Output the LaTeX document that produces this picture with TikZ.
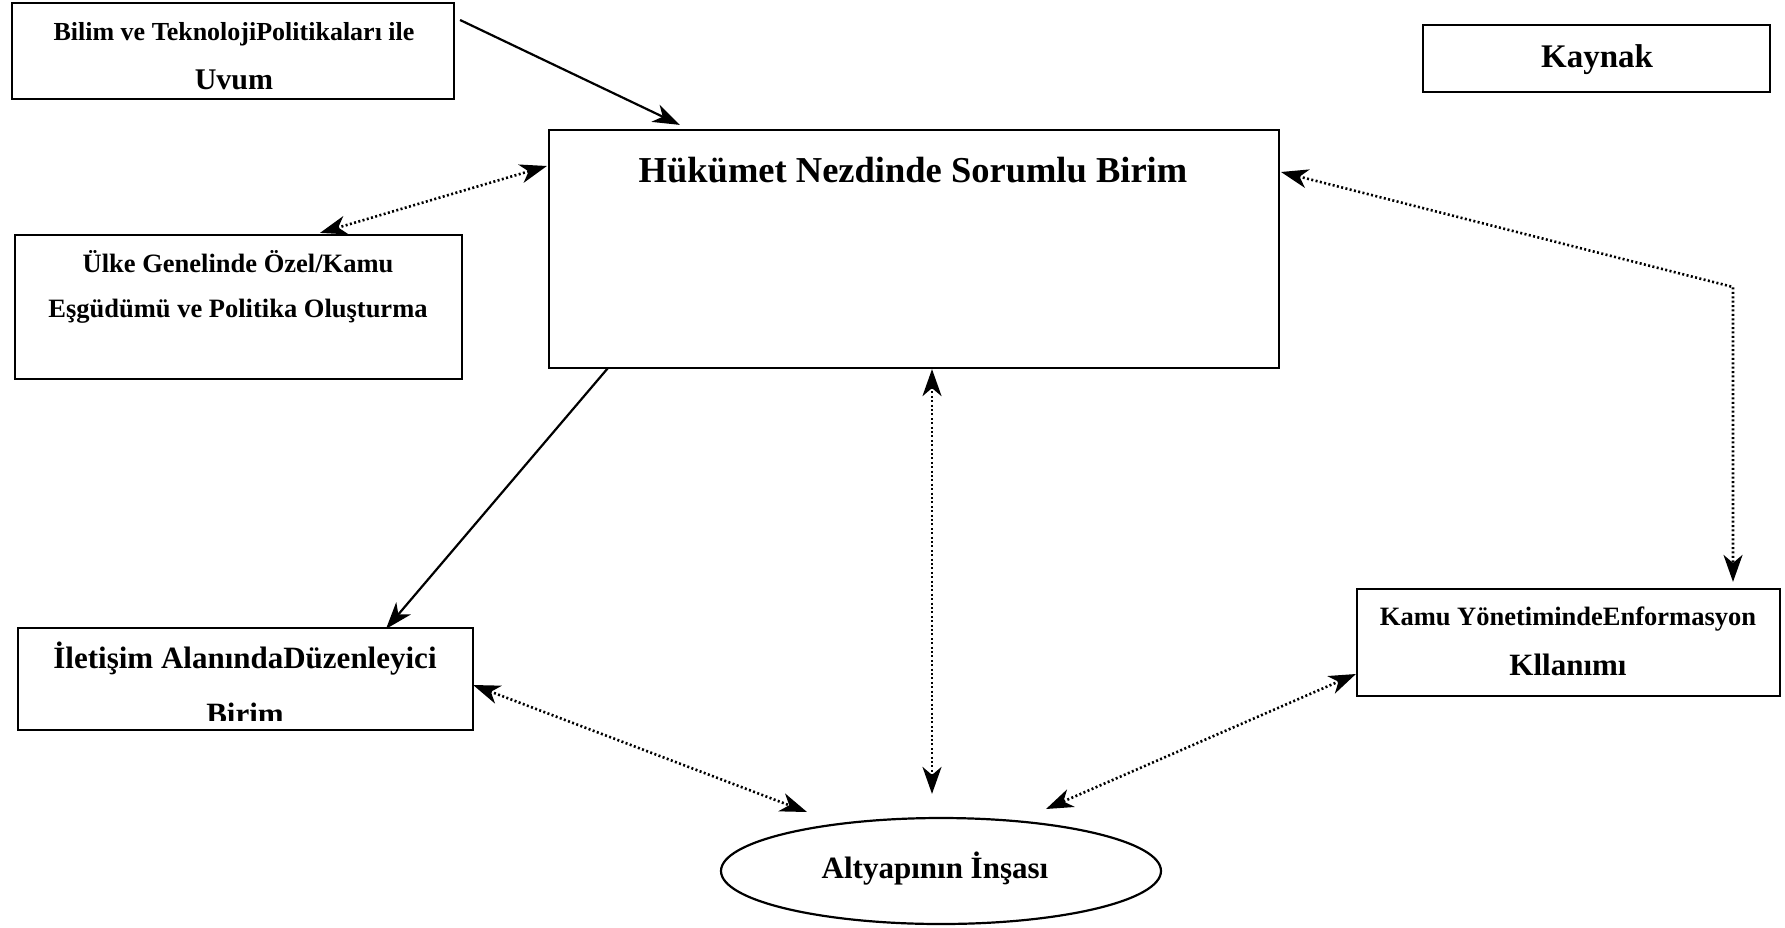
\documentclass[tikz,border=0pt]{standalone}
\usepackage{fontspec}
\setmainfont{Liberation Serif}
\usetikzlibrary{arrows.meta,calc,shapes.geometric}
\tikzset{
  box/.style={draw, line width=2.2pt, inner sep=0pt},
  txt/.style={anchor=base, inner sep=0pt, font=\bfseries},
  solidarrow/.style={line width=2.2pt, -{Stealth[length=27pt,width=19pt,inset=8pt]}},
  dotarrow/.style={line width=2.6pt, dash pattern=on 2pt off 2.4pt,
    {Stealth[length=27pt,width=19pt,inset=8pt]}-{Stealth[length=27pt,width=19pt,inset=8pt]}}
}
\newcommand{\fs}[1]{\fontsize{#1}{#1}\selectfont}
\begin{document}
\begin{tikzpicture}[x=1pt,y=-1pt]
\useasboundingbox (0,0) rectangle (1785,927);
% boxes
\node[box, minimum width=442, minimum height=96] (bilim) at (233,51) {};
\node[box, minimum width=347, minimum height=67] (kaynak) at (1596.5,58.5) {};
\node[box, minimum width=730, minimum height=238] (main) at (914,249) {};
\node[box, minimum width=447, minimum height=144] (ulke) at (238.5,307) {};
\node[box, minimum width=455, minimum height=102] (ilet) at (245.5,679) {};
\node[box, minimum width=423, minimum height=107] (kamu) at (1568.5,642.5) {};
\node[draw, ellipse, line width=2.2pt, minimum width=440, minimum height=106, inner sep=0pt] (alt) at (941,871) {};
% texts
\node[txt] (t1) at (234,40) {\fs{26}Bilim ve TeknolojiPolitikaları ile};
\node[txt] (t2) at (234,89) {\fs{30}Uvum};
\node[txt] (t3) at (1597,67) {\fs{33}Kaynak};
\node[txt] (t4) at (913,182) {\fs{36.5}Hükümet Nezdinde Sorumlu Birim};
\node[txt] (t5) at (238,272) {\fs{26.5}Ülke Genelinde Özel/Kamu};
\node[txt] (t6) at (238,317) {\fs{26.5}Eşgüdümü ve Politika Oluşturma};
\node[txt] (t7) at (245,668) {\fs{31}İletişim AlanındaDüzenleyici};
\begin{scope}
\clip (18,628) rectangle (473,720);
\node[txt] (t8) at (245,724) {\fs{31}Birim};
\end{scope}
\node[txt] (t9) at (1568,625) {\fs{26.5}Kamu YönetimindeEnformasyon};
\node[txt] (t10) at (1568,675) {\fs{31}Kllanımı};
\node[txt] (t11) at (935,878) {\fs{31}Altyapının İnşası};
% connectors
\coordinate (corner) at (1733,287);
\draw[solidarrow] ($(bilim.east)+(5,-31)$) -- ($(main.north west)+(132,-4)$);
\draw[dotarrow] ($(ulke.north)+(81.5,-1)$) -- ($(main.west)+(-1,-83)$);
\draw[solidarrow] ($(main.south west)+(60,-1)$) -- ($(ilet.north)+(140.5,2)$);
\draw[dotarrow] ($(main.south)+(18,0)$) -- ($(alt.north)+(-9,-23)$);
\draw[dotarrow] ($(main.east)+(1,-77)$) -- (corner) -- ($(kamu.north)+(164.5,-6)$);
\draw[dotarrow] ($(ilet.east)+(-1,6)$) -- ($(alt.center)+(-134,-59)$);
\draw[dotarrow] ($(kamu.west)+(0,31.5)$) -- ($(alt.center)+(105,-62)$);
\end{tikzpicture}
\end{document}
